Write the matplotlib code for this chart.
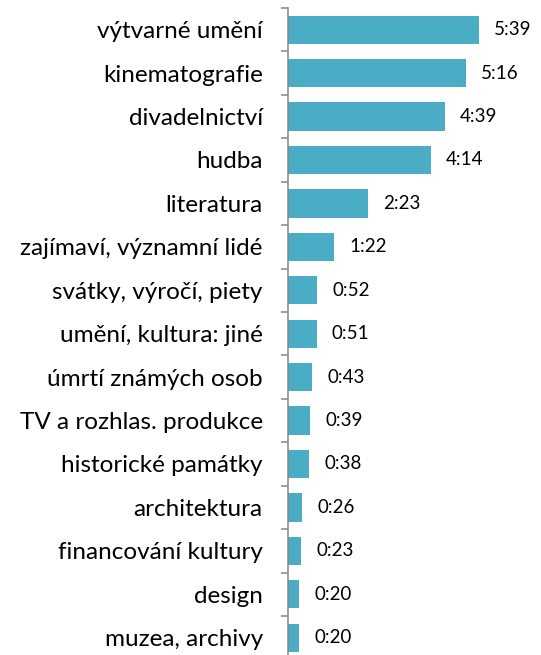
import matplotlib
matplotlib.use('Agg')
import matplotlib.pyplot as plt

# ─── data ──────────────────────────────────
categories = ['výtvarné umění', 'kinematografie', 'divadelnictví', 'hudba', 'literatura',
              'zajímaví, významní lidé', 'svátky, výročí, piety', 'umění, kultura: jiné',
              'úmrtí známých osob', 'TV a rozhlas. produkce', 'historické památky',
              'architektura', 'financování kultury', 'design', 'muzea, archivy']
durations = ['5:39', '5:16', '4:39', '4:14', '2:23', '1:22', '0:52', '0:51',
             '0:43', '0:39', '0:38', '0:26', '0:23', '0:20', '0:20']
seconds = [int(d.split(':')[0]) * 60 + int(d.split(':')[1]) for d in durations]

plt.rcParams['font.family'] = ['Lato', 'DejaVu Sans']

fig = plt.figure(figsize=(5.41, 6.55), dpi=100)
ax = fig.add_axes([0.532, -0.0067, 0.468, 0.9945])

y = list(range(len(categories)))
ax.barh(y, seconds, height=0.65, color='#4BACC6')
for yi, s, d in zip(y, seconds, durations):
    ax.annotate(d, (s, yi), xytext=(11, 0), textcoords='offset points',
                va='center', ha='left', fontsize=13.5, color='#000000')

ax.set_xlim(0, 450)
ax.set_ylim(len(categories) - 0.5, -0.5)
ax.set_yticks(y)
ax.set_yticklabels(categories, fontsize=17.5)
ax.tick_params(axis='y', which='major', length=0, pad=18)
ax.set_yticks([i - 0.5 for i in range(len(categories) + 1)], minor=True)
ax.tick_params(axis='y', which='minor', length=5, width=1.1, color='#868686')
ax.set_xticks([])
for side in ['top', 'right', 'bottom']:
    ax.spines[side].set_visible(False)
ax.spines['left'].set_color('#868686')
ax.spines['left'].set_linewidth(1.1)

fig.savefig('out.png', dpi=100)
